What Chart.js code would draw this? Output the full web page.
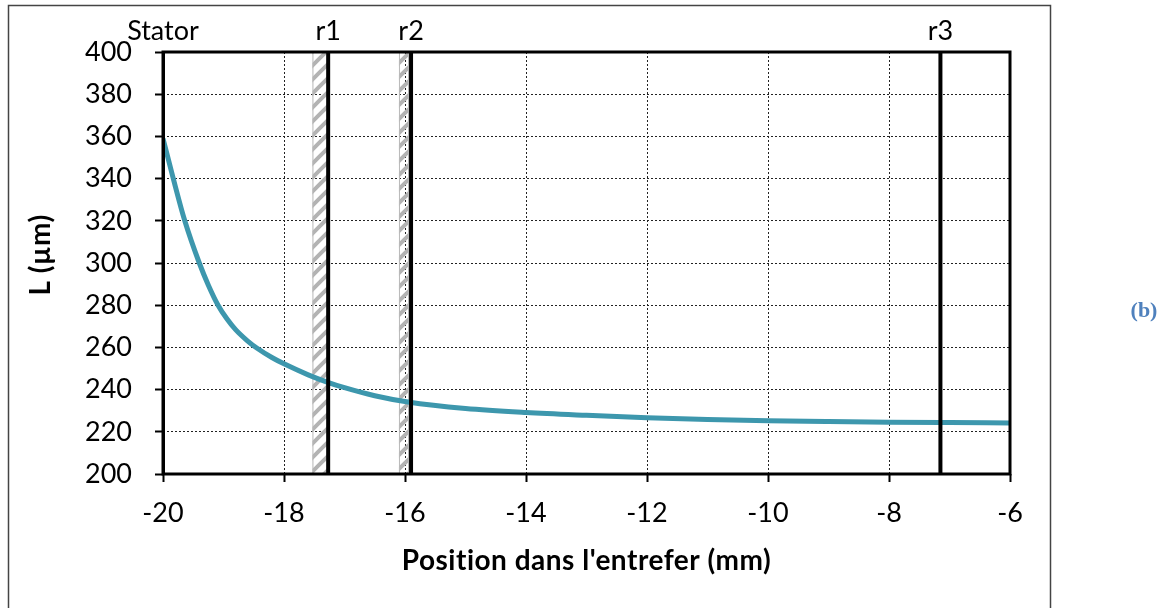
<!DOCTYPE html>
<html>
<head>
<meta charset="utf-8">
<script src="https://cdn.jsdelivr.net/npm/chart.js@4/dist/chart.umd.min.js"></script>
<style>
  html, body { margin: 0; padding: 0; background: #fff; }
  #wrap { width: 1164px; height: 608px; position: relative; }
</style>
</head>
<body>
<div id="wrap"><canvas id="lPlot"></canvas></div>
<script>
// curve
const positions = [-20, -19.83, -19.64, -19.4, -19.25, -19.09, -18.95, -18.8, -18.6, -18.45, -18.2, -18, -17.6, -17.3, -17, -16.5, -15.95, -15, -14, -13, -12, -11, -10, -9, -8, -7, -6];
const lengths = [359, 340, 320, 300, 289.5, 280, 273.8, 268.4, 263, 259.7, 255.2, 252.2, 247, 243.7, 240.9, 237.1, 234.1, 231, 229.1, 227.8, 226.7, 225.85, 225.25, 224.85, 224.55, 224.35, 224.2];

// radius markers and the hatched bands before r1 / r2
const markerNames = ["Stator", "r1", "r2", "r3"];
const markerPos = [-20, -17.27, -15.9, -7.15];
const bandStart = [-17.53, -16.1];
const bandEnd = [-17.29, -15.95];

const xTitle = "Position dans l'entrefer (mm)";
const yTitle = "L (\u00b5m)";
const panelTag = "(b)";

const FONT = "Lato, 'Open Sans', sans-serif";

function hatchPattern(ctx) {
    const c = document.createElement("canvas");
    c.width = 14; c.height = 14;
    const g = c.getContext("2d");
    g.strokeStyle = "#b3b3b3";
    g.lineWidth = 4;
    g.beginPath();
    g.moveTo(-2, 16); g.lineTo(16, -2);
    g.moveTo(-9, 9); g.lineTo(9, -9);
    g.moveTo(5, 23); g.lineTo(23, 5);
    g.stroke();
    return ctx.createPattern(c, "repeat");
}

const decorPlugin = {
    id: "decor",
    beforeDatasetsDraw(chart) {
        const { ctx, chartArea, scales } = chart;
        const pat = hatchPattern(ctx);
        ctx.save();
        for (let i = 0; i < bandStart.length; i++) {
            const x1 = scales.x.getPixelForValue(bandStart[i]);
            const x2 = scales.x.getPixelForValue(bandEnd[i]);
            ctx.fillStyle = pat;
            ctx.fillRect(x1, chartArea.top, x2 - x1, chartArea.bottom - chartArea.top);
            ctx.strokeStyle = "#b8b8b8";
            ctx.lineWidth = 1;
            ctx.strokeRect(x1 + 0.5, chartArea.top, x2 - x1, chartArea.bottom - chartArea.top);
        }
        ctx.restore();
    },
    afterDatasetsDraw(chart) {
        const { ctx, chartArea, scales } = chart;
        ctx.save();
        // plot frame
        ctx.strokeStyle = "#000";
        ctx.lineWidth = 3;
        ctx.strokeRect(chartArea.left, chartArea.top, chartArea.right - chartArea.left, chartArea.bottom - chartArea.top);

        // marker names above the plot
        ctx.fillStyle = "#000";
        ctx.font = "27px " + FONT;
        ctx.textAlign = "center";
        ctx.textBaseline = "alphabetic";
        markerNames.forEach((name, i) => {
            ctx.fillText(name, scales.x.getPixelForValue(markerPos[i]), 40);
        });

        // axis titles
        ctx.font = "bold 28px " + FONT;
        ctx.letterSpacing = "0.5px";
        ctx.textBaseline = "middle";
        ctx.fillText(xTitle, (chartArea.left + chartArea.right) / 2, 561);
        ctx.translate(41, 255);
        ctx.rotate(-Math.PI / 2);
        ctx.fillText(yTitle, 0, 0);
        ctx.restore();

        // outer frame and panel tag
        ctx.save();
        ctx.strokeStyle = "#444";
        ctx.lineWidth = 1.5;
        ctx.strokeRect(8.5, 5.5, 1042, 620);
        ctx.fillStyle = "#4f81bd";
        ctx.font = "bold 22px 'Liberation Serif', 'DejaVu Serif', serif";
        ctx.textAlign = "center";
        ctx.textBaseline = "middle";
        ctx.fillText(panelTag, 1144, 311);
        ctx.restore();
    }
};

const markerSets = markerPos.map((p) => ({
    data: [{ x: p, y: 200 }, { x: p, y: 400 }],
    borderColor: "#000",
    borderWidth: 4,
    pointRadius: 0,
    order: 0,
}));

const gridOpts = {
    color: "#222",
    lineWidth: 1,
    tickLength: 8,
    tickColor: "#000",
    tickWidth: 2,
};

new Chart(document.getElementById("lPlot"), {
    type: "line",
    data: {
        datasets: [
            {
                label: "L",
                data: positions.map((x, i) => ({ x: x, y: lengths[i] })),
                borderColor: "#3d97ad",
                borderWidth: 5,
                pointRadius: 0,
                cubicInterpolationMode: "monotone",
                order: 1,
            },
            ...markerSets,
        ],
    },
    options: {
        responsive: true,
        maintainAspectRatio: false,
        animation: false,
        layout: { padding: { left: 0, top: 52, right: 154, bottom: 0 } },
        plugins: { legend: { display: false }, tooltip: { enabled: false } },
        scales: {
            x: {
                type: "linear",
                min: -20,
                max: -6,
                afterFit: (s) => { s.height = 134; },
                ticks: { stepSize: 2, padding: 15, color: "#000", font: { family: FONT, size: 27 }, maxRotation: 0 },
                grid: gridOpts,
                border: { display: false, dash: [2, 2] },
            },
            y: {
                min: 200,
                max: 400,
                afterFit: (s) => { s.width = 163; },
                ticks: { stepSize: 20, padding: 23, color: "#000", font: { family: FONT, size: 27 } },
                grid: gridOpts,
                border: { display: false, dash: [2, 2] },
            },
        },
    },
    plugins: [decorPlugin],
});
</script>
</body>
</html>
